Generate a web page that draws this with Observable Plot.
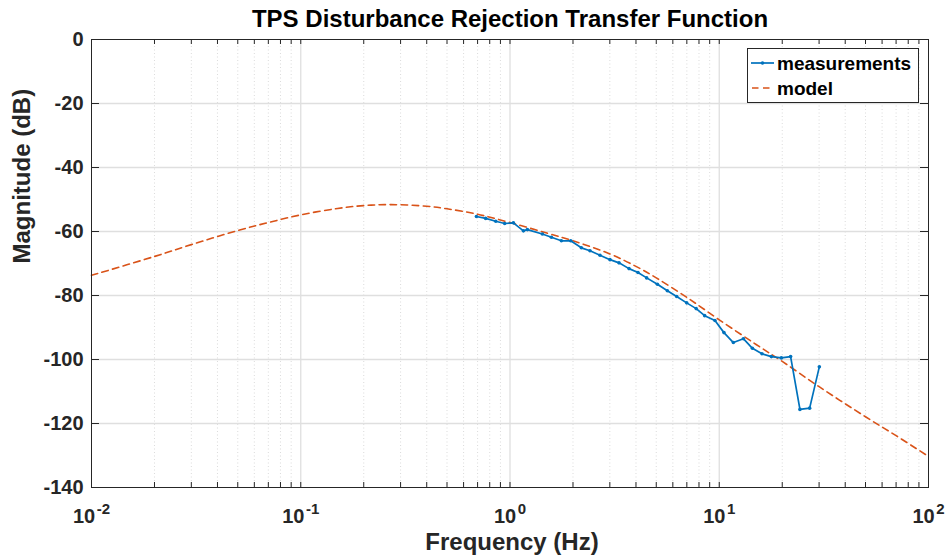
<!DOCTYPE html>
<html><head><meta charset="utf-8">
<script src="https://cdn.jsdelivr.net/npm/d3@7"></script>
<script src="https://cdn.jsdelivr.net/npm/@observablehq/plot@0.6"></script>
<style>
body{margin:0;background:#fff;}
#chart{width:947px;height:558px;}
</style>
</head><body><div id="chart"></div>
<script>
const chartTitle = "TPS Disturbance Rejection Transfer Function";
const xLabel = "Frequency (Hz)";
const yLabel = "Magnitude (dB)";
const seriesNames = ["measurements", "model"];
const seriesColors = ["#0072BD", "#D95319"];

const measFreq = [0.691,0.765,0.855,0.943,1.038,1.159,1.211,1.428,1.577,1.760,1.950,2.193,2.411,2.692,3.005,3.318,3.704,4.089,4.499,5.063,5.649,6.259,6.987,7.757,8.517,9.539,10.53,11.68,13.04,14.40,16.00,17.74,19.81,21.93,24.30,27.04,30.08];
const measMag  = [-55.3,-55.9,-56.8,-57.5,-57.3,-59.8,-59.4,-60.8,-61.8,-62.9,-62.9,-65.1,-66.0,-67.4,-68.8,-69.8,-71.6,-72.8,-74.5,-76.5,-78.5,-80.3,-82.3,-84.1,-86.3,-87.8,-91.6,-94.7,-93.5,-96.5,-98.2,-99.1,-99.5,-99.1,-115.6,-115.2,-102.3];

const modelFreq = [0.01,0.02,0.03,0.05,0.07,0.1,0.15,0.2,0.27,0.4,0.5,0.7,1.0,1.5,2.0,3.0,4.0,5.0,7.0,10,15,20,30,50,70,100];
const modelMag  = [-73.7,-67.8,-64.1,-59.7,-57.2,-54.8,-52.8,-51.9,-51.6,-52.1,-52.9,-54.6,-57.2,-60.5,-62.9,-67.0,-70.9,-74.5,-80.6,-87.6,-95.3,-100.6,-108.5,-117.9,-123.8,-130.3];

const yTicks = [0,-20,-40,-60,-80,-100,-120,-140];
const yTickLabels = ["0","-20","-40","-60","-80","-100","-120","-140"];
const xDecades = [0.01,0.1,1,10,100];
const xDecadeExp = ["-2","-1","0","1","2"];
const xMinor = [];
for (const d of xDecades.slice(0,-1)) for (const m of [2,3,4,5,6,7,8,9]) xMinor.push(d*m);

const meas = measFreq.map((f,i)=>({f, m: measMag[i]}));
const model = modelFreq.map((f,i)=>({f, m: modelMag[i]}));

const ink = "#262626";
const font = "'Liberation Sans', Arial, Helvetica, sans-serif";
const baseFs = 20, supFs = 15;
const supW = e => (e.startsWith("-") ? 0.333 + 0.556 : 0.556) * supFs;
const baseW = 2 * 0.556 * baseFs;
const tickLenY = 8 / 209.3;   // decades
const tickLenX = 5 / 3.2;     // dB
const xL = 0.01, xR = 100, yB = -140, yT = 0;

const xTickMarks = [];
xDecades.forEach((d, i) => {
  const e = xDecadeExp[i];
  const total = baseW + 1.5 + supW(e);
  const start = -total / 2;
  xTickMarks.push(Plot.text([d], {x: v=>v, y: () => yB, text: () => "10", textAnchor: "start",
    dx: start, dy: 35, lineAnchor: "bottom", fontSize: baseFs, fontWeight: "bold", fill: ink}));
  xTickMarks.push(Plot.text([d], {x: v=>v, y: () => yB, text: () => e, textAnchor: "start",
    dx: start + baseW + 1.5, dy: 26, lineAnchor: "bottom", fontSize: supFs, fontWeight: "bold", fill: ink}));
});

const plot = Plot.plot({
  width: 947,
  height: 558,
  marginLeft: 91,
  marginRight: 19,
  marginTop: 39,
  marginBottom: 71,
  style: {fontFamily: font, background: "#fff", color: ink},
  x: {type: "log", domain: [xL, xR], axis: null},
  y: {domain: [yB, yT], axis: null},
  marks: [
    Plot.ruleX(xMinor, {x: d=>d, stroke: "#d2d2d2", strokeWidth: 0.8, strokeDasharray: "1,2.5"}),
    Plot.ruleX(xDecades.slice(1,-1), {x: d=>d, stroke: "#dfdfdf", strokeWidth: 1.3}),
    Plot.ruleY(yTicks.slice(1,-1), {y: d=>d, stroke: "#dfdfdf", strokeWidth: 1.3}),
    Plot.line(model, {x: "f", y: "m", stroke: seriesColors[1], strokeWidth: 1.6, strokeDasharray: "6.5,4.5", curve: "catmull-rom"}),
    Plot.line(meas, {x: "f", y: "m", stroke: seriesColors[0], strokeWidth: 1.7}),
    Plot.dot(meas, {x: "f", y: "m", r: 1.8, fill: seriesColors[0], stroke: null}),
    Plot.frame({stroke: ink, strokeWidth: 1}),
    Plot.ruleX([...xDecades, ...xMinor], {x: d=>d, y1: yB, y2: yB + tickLenX, stroke: ink, strokeWidth: 1}),
    Plot.ruleX([...xDecades, ...xMinor], {x: d=>d, y1: yT, y2: yT - tickLenX, stroke: ink, strokeWidth: 1}),
    Plot.ruleY(yTicks, {y: d=>d, x1: xL, x2: xL * Math.pow(10, tickLenY), stroke: ink, strokeWidth: 1}),
    Plot.ruleY(yTicks, {y: d=>d, x1: xR, x2: xR / Math.pow(10, tickLenY), stroke: ink, strokeWidth: 1}),
    Plot.text(yTicks, {x: () => xL, y: d=>d, text: (d,i)=>yTickLabels[i], textAnchor: "end", dx: -8, lineAnchor: "middle", fontSize: 20, fontWeight: "bold", fill: ink}),
    ...xTickMarks,
    Plot.text([xLabel], {frameAnchor: "bottom", text: d=>d, dy: 62, dx: 2, lineAnchor: "bottom", fontSize: 24, fontWeight: "bold", fill: ink}),
    Plot.text([yLabel], {frameAnchor: "left", text: d=>d, rotate: -90, dx: -69, lineAnchor: "middle", fontSize: 24, fontWeight: "bold", fill: ink}),
    Plot.text([chartTitle], {frameAnchor: "top", text: d=>d, dy: -13, lineAnchor: "bottom", fontSize: 24, fontWeight: "bold", fill: "#000"})
  ]
});
document.getElementById("chart").appendChild(plot);

const svg = d3.select(plot);
const lg = svg.append("g").attr("font-family", font).attr("font-weight", "bold").attr("font-size", 19)
  .attr("fill", "#000").attr("text-anchor", "start");
lg.append("rect").attr("x", 747.5).attr("y", 48.5).attr("width", 171).attr("height", 54)
  .attr("fill", "#fff").attr("stroke", ink).attr("stroke-width", 1);
const rowY = [63, 88];
rowY.forEach((y, i) => {
  const ln = lg.append("line").attr("x1", 751).attr("x2", 774).attr("y1", y).attr("y2", y)
    .attr("stroke", seriesColors[i]).attr("stroke-width", i === 0 ? 1.7 : 1.6);
  if (i === 1) ln.attr("stroke-dasharray", "6.5,4.5").attr("stroke-dashoffset", -1);
  if (i === 0) lg.append("circle").attr("cx", 762.5).attr("cy", y).attr("r", 1.8).attr("fill", seriesColors[0]);
  lg.append("text").attr("x", 777).attr("y", y + 6.5).attr("text-anchor", "start").text(seriesNames[i]);
});
</script>
</body></html>
